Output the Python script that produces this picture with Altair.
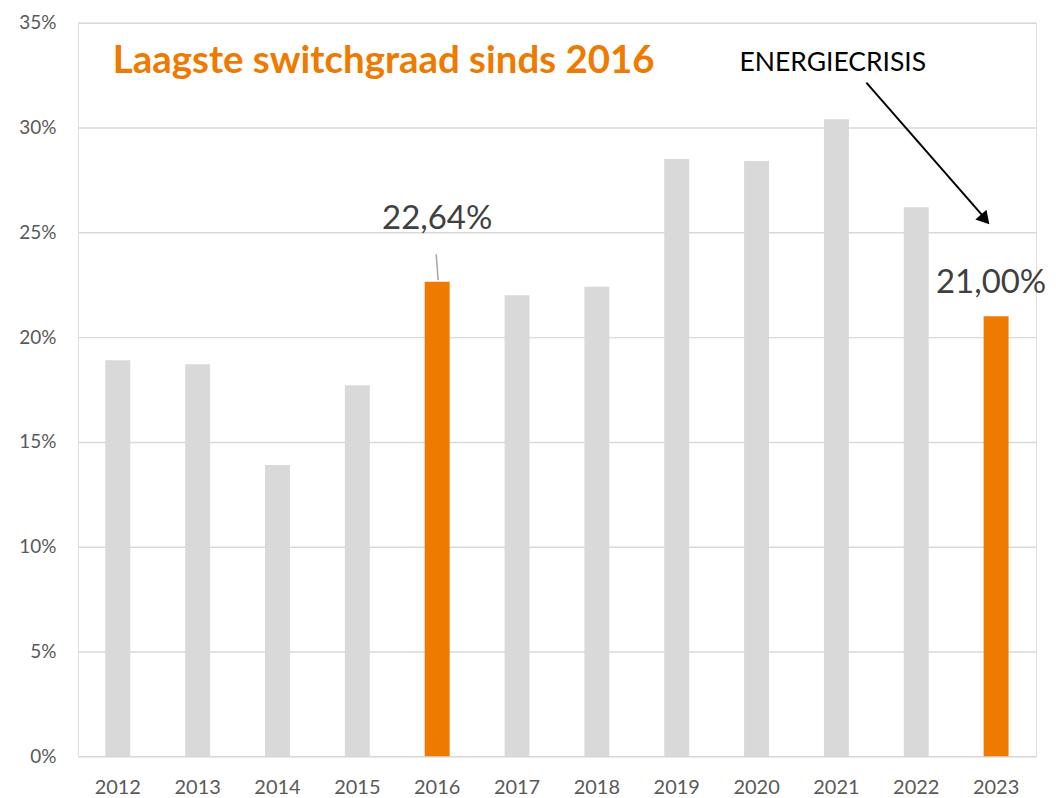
import altair as alt
import pandas as pd

years = ["2012", "2013", "2014", "2015", "2016", "2017", "2018", "2019", "2020", "2021", "2022", "2023"]
rates = [18.9, 18.7, 13.9, 17.7, 22.64, 22.0, 22.4, 28.5, 28.4, 30.4, 26.2, 21.0]
highlight = ["no", "no", "no", "no", "yes", "no", "no", "no", "no", "no", "no", "yes"]
labels = ["", "", "", "", "22,64%", "", "", "", "", "", "", "21,00%"]
y_ticks = [0, 5, 10, 15, 20, 25, 30, 35]

df = pd.DataFrame({"year": years, "rate": rates, "hl": highlight, "label": labels})

FONT = "Lato"
GREY = "#d9d9d9"
ORANGE = "#ee7a00"

x = alt.X("year:N", sort=years, title=None,
          scale=alt.Scale(paddingInner=0.6875, paddingOuter=0.34375),
          axis=alt.Axis(labelAngle=0, labelFontSize=20, labelColor="#595959", labelFont=FONT,
                        ticks=False, domain=False, labelPadding=21, grid=False))
y = alt.Y("rate:Q", title=None,
          scale=alt.Scale(domain=[0, 35], nice=False),
          axis=alt.Axis(values=y_ticks, labelExpr="datum.value + '%'", labelFontSize=19,
                        labelColor="#595959", labelFont=FONT, ticks=False, domain=False,
                        labelPadding=22, grid=True, gridColor=GREY, gridWidth=1.5))

base = alt.Chart(df)

bars = base.mark_bar(size=25).encode(
    x=x, y=y,
    color=alt.Color("hl:N", scale=alt.Scale(domain=["no", "yes"], range=[GREY, ORANGE]), legend=None),
)

lab2016 = base.transform_filter(alt.datum.year == "2016").mark_text(
    fontSize=33, font=FONT, color="#404040", baseline="middle", dy=-63
).encode(x=alt.X("year:N", sort=years), y="rate:Q", text="label:N")

lab2023 = base.transform_filter(alt.datum.year == "2023").mark_text(
    fontSize=33, font=FONT, color="#404040", baseline="middle", dy=-33, dx=-5
).encode(x=alt.X("year:N", sort=years), y="rate:Q", text="label:N")

leader = alt.Chart(pd.DataFrame({"k": [0]})).mark_rule(color="#a6a6a6", strokeWidth=1.5).encode(
    x=alt.value(359), x2=alt.value(361), y=alt.value(232), y2=alt.value(258))

title = alt.Chart(pd.DataFrame({"t": ["Laagste switchgraad sinds 2016"]})).mark_text(
    fontSize=38.5, font=FONT, fontWeight="bold", color=ORANGE, align="left", baseline="middle"
).encode(x=alt.value(35), y=alt.value(38), text="t:N")

energie = alt.Chart(pd.DataFrame({"t": ["ENERGIECRISIS"]})).mark_text(
    fontSize=26.5, font=FONT, color="#000000", align="left", baseline="middle"
).encode(x=alt.value(663), y=alt.value(40), text="t:N")

arrow_line = alt.Chart(pd.DataFrame({"k": [0]})).mark_rule(color="#000000", strokeWidth=2).encode(
    x=alt.value(790), y=alt.value(60), x2=alt.value(908), y2=alt.value(195))

arrow_head = alt.Chart(pd.DataFrame({"k": [0]})).mark_point(
    shape="triangle-up", filled=True, color="#000000", size=220, angle=138.8, opacity=1
).encode(x=alt.value(909), y=alt.value(197))

chart = alt.layer(bars, lab2016, lab2023, leader, title, energie, arrow_line, arrow_head).properties(
    width=960, height=735,
    autosize=alt.AutoSizeParams(type="none"),
    padding={"left": 70, "top": 14, "right": 12, "bottom": 40},
).configure_view(stroke=None).configure(background="white")

chart.save("out.html", embed_options={"renderer": "svg", "actions": False})
